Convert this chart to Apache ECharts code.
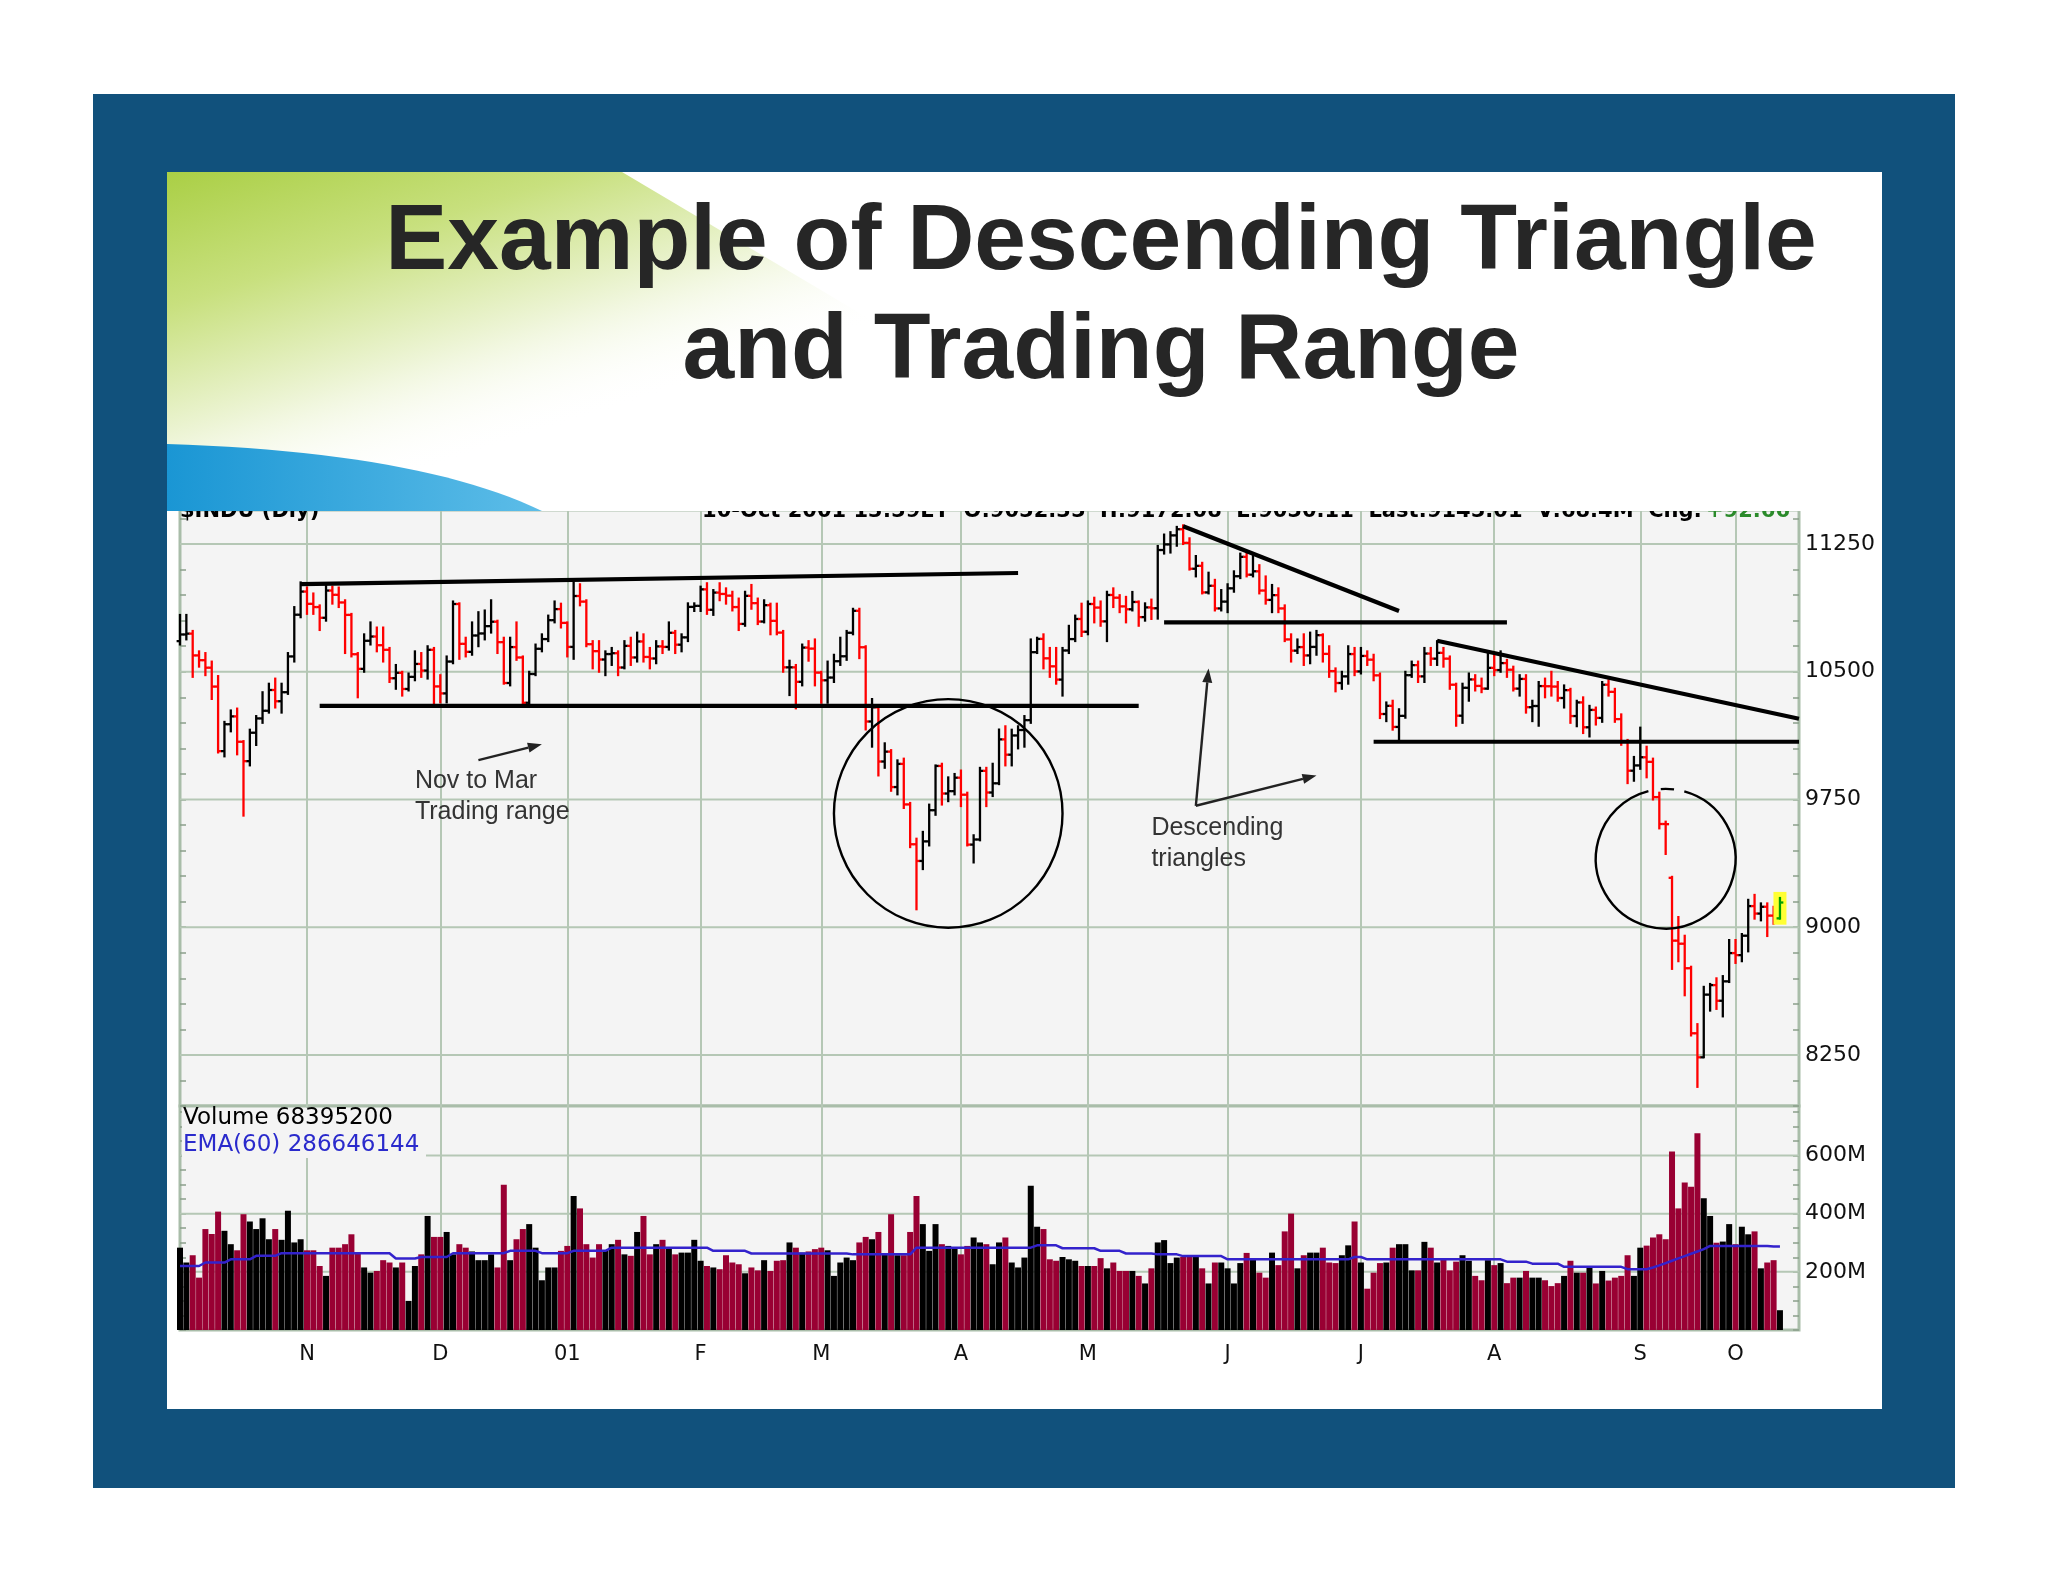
<!DOCTYPE html>
<html><head><meta charset="utf-8">
<script src="https://cdn.jsdelivr.net/npm/echarts@6/dist/echarts.min.js"></script>
<style>html,body{margin:0;padding:0;background:#fff}#chart{width:2048px;height:1582px}</style>
</head><body><div id="chart"></div>
<script>
// ---------- DATA (daily bars, 4-Oct-2000 .. 10-Oct-2001, index = trading day) ----------
const monthStarts = [20,41,61,82,101,123,143,165,186,207,230,245];
const monthLabels = ['N','D','01','F','M','A','M','J','J','A','S','O'];
const priceTickLabels = [8250, 9000, 9750, 10500, 11250];
const volumeTickLabels = [200, 400, 600];

const opens = [10680,10719,10724,10596,10568,10524,10413,10034,10192,10238,
10089,9975,10142,10226,10271,10393,10327,10380,10590,10835,
10971,10899,10880,10817,10977,10952,10907,10834,10603,10517,
10682,10707,10656,10629,10462,10494,10399,10470,10546,10507,
10629,10414,10373,10560,10898,10664,10617,10713,10725,10768,
10794,10674,10434,10645,10584,10318,10487,10635,10692,10803,
10868,10787,10646,10945,10912,10662,10621,10572,10604,10609,
10525,10652,10584,10678,10587,10578,10649,10646,10729,10659,
10702,10881,10887,10984,10864,10965,10957,10947,10880,10781,
10946,10903,10795,10891,10799,10730,10526,10526,10441,10642,
10636,10495,10450,10466,10562,10591,10729,10858,10644,10208,
10291,9973,10031,9823,9959,9721,9487,9389,9504,9687,
9947,9785,9799,9878,9778,9485,9515,9918,9791,9845,
10103,10013,10126,10158,10216,10615,10693,10579,10532,10454,
10625,10692,10810,10735,10898,10877,10796,10951,10935,10884,
10867,10910,10821,10878,10873,11215,11248,11301,11337,11257,
11105,11122,10966,11005,10872,10912,10990,11061,11175,11070,
11090,10977,10922,10950,10872,10690,10624,10645,10596,10646,
10715,10605,10504,10434,10473,10604,10502,10593,10571,10479,
10252,10300,10176,10241,10480,10539,10473,10607,10577,10611,
10577,10424,10242,10406,10455,10417,10401,10523,10510,10551,
10512,10401,10458,10292,10299,10416,10415,10413,10346,10392,
10240,10320,10174,10276,10229,10424,10382,10222,10091,9919,
9950,9998,9971,9764,9606,9290,8921,8903,8759,8377,
8236,8604,8660,8568,8682,8848,8836,8950,9124,9080,
9120,9068,9052];

const highs = [10834,10834,10740,10620,10610,10560,10475,10206,10273,10284,
10093,10160,10240,10380,10430,10460,10430,10610,10880,11025,
10995,10960,10890,11013,11000,10995,10920,10840,10610,10720,
10790,10760,10760,10640,10540,10500,10490,10620,10610,10650,
10640,10480,10590,10913,10902,10700,10790,10850,10860,10920,
10800,10700,10700,10790,10590,10500,10660,10720,10830,10913,
10900,10790,11025,11014,10920,10680,10680,10620,10640,10620,
10680,10700,10730,10720,10640,10680,10680,10790,10740,10720,
10902,10902,11000,11020,10980,11020,10990,10970,10930,10970,
11010,10930,10920,10900,10900,10740,10565,10540,10660,10680,
10690,10500,10560,10600,10700,10740,10870,10870,10650,10340,
10300,10080,10040,9980,9990,9730,9520,9560,9720,9950,
9960,9880,9900,9920,9790,9540,9936,9936,9960,10161,
10180,10160,10180,10240,10690,10700,10720,10640,10640,10640,
10770,10830,10900,10913,10935,10913,10970,10990,10950,10940,
10969,10913,10902,10924,11239,11306,11320,11351,11360,11284,
11180,11140,11082,11040,10980,11014,11090,11194,11194,11180,
11126,11060,11010,10990,10890,10720,10690,10720,10730,10740,
10720,10650,10520,10500,10650,10640,10640,10620,10600,10490,
10320,10330,10280,10500,10560,10560,10640,10640,10680,10640,
10590,10430,10430,10490,10480,10460,10610,10600,10620,10570,
10530,10480,10480,10330,10440,10460,10500,10440,10420,10400,
10330,10350,10300,10290,10440,10450,10400,10250,10100,10000,
10172,10060,9990,9790,9620,9296,9060,8950,8768,8431,
8650,8667,8700,8713,8925,8925,8960,9161,9190,9140,
9140,9120,9172];

const lows = [10660,10690,10470,10530,10480,10340,10026,10003,10150,10015,
9655,9950,10070,10200,10260,10290,10260,10370,10560,10820,
10840,10840,10745,10800,10900,10880,10610,10590,10350,10500,
10660,10620,10560,10440,10400,10360,10390,10450,10470,10460,
10300,10320,10320,10550,10576,10590,10600,10650,10690,10730,
10610,10430,10420,10570,10300,10300,10480,10620,10680,10790,
10760,10590,10576,10890,10650,10520,10500,10480,10540,10480,
10520,10540,10560,10560,10520,10550,10610,10630,10610,10620,
10680,10857,10857,10840,10834,10920,10900,10860,10745,10770,
10870,10780,10790,10720,10720,10500,10363,10285,10420,10565,
10420,10318,10318,10440,10540,10570,10720,10580,10161,10060,
9891,9936,9801,9780,9700,9470,9105,9341,9480,9660,
9720,9740,9780,9711,9480,9380,9510,9711,9770,9840,
9950,9950,10050,10060,10200,10610,10520,10470,10430,10360,
10610,10680,10710,10720,10790,10770,10680,10880,10850,10790,
10860,10770,10800,10810,10812,11194,11200,11240,11250,11100,
11060,10960,10960,10860,10860,10850,10970,11050,11060,11060,
10960,10900,10850,10850,10680,10560,10610,10540,10550,10600,
10560,10470,10385,10400,10430,10480,10490,10540,10450,10228,
10210,10160,10100,10230,10470,10440,10440,10540,10540,10530,
10400,10183,10200,10330,10390,10380,10400,10480,10500,10470,
10390,10360,10260,10210,10183,10350,10360,10330,10290,10200,
10180,10140,10120,10190,10206,10360,10206,10071,9846,9860,
9930,9880,9750,9580,9430,8755,8800,8600,8364,8062,
8236,8510,8520,8476,8678,8790,8800,8858,9050,9040,
8948,9020,9050];

const closes = [10719,10724,10596,10568,10524,10413,10034,10192,10238,10089,
9975,10142,10226,10271,10393,10327,10380,10590,10835,10971,
10899,10880,10817,10977,10952,10907,10834,10603,10517,10682,
10707,10656,10629,10462,10494,10399,10470,10546,10507,10629,
10414,10373,10560,10898,10664,10617,10713,10725,10768,10794,
10674,10434,10645,10584,10318,10487,10635,10692,10803,10868,
10787,10646,10945,10912,10662,10621,10572,10604,10609,10525,
10652,10584,10678,10587,10578,10649,10646,10729,10659,10702,
10881,10887,10984,10864,10965,10957,10947,10880,10781,10946,
10903,10795,10891,10799,10730,10526,10526,10441,10642,10636,
10495,10450,10466,10562,10591,10729,10858,10644,10208,10291,
9973,10031,9823,9959,9721,9487,9389,9504,9687,9947,
9785,9799,9878,9778,9485,9515,9918,9791,9845,10103,
10013,10126,10158,10216,10615,10693,10579,10532,10454,10625,
10692,10810,10735,10898,10877,10796,10951,10935,10884,10867,
10910,10821,10878,10873,11215,11248,11301,11337,11257,11105,
11122,10966,11005,10872,10912,10990,11061,11175,11070,11090,
10977,10922,10950,10872,10690,10624,10645,10596,10646,10715,
10605,10504,10434,10473,10604,10502,10593,10571,10479,10252,
10300,10176,10241,10480,10539,10473,10607,10577,10611,10577,
10424,10242,10406,10455,10417,10401,10523,10510,10551,10512,
10401,10458,10292,10299,10416,10415,10413,10346,10392,10240,
10320,10174,10276,10229,10424,10382,10222,10091,9919,9950,
9998,9971,9764,9606,9605,8921,8903,8759,8377,8236,
8604,8660,8568,8682,8848,8836,8950,9124,9080,9120,
9068,9052,9145];

// volume in millions of shares
const volumesM = [283,232,257,180,347,330,407,341,295,274,
398,373,347,384,312,347,310,410,301,312,
274,274,220,186,283,283,295,329,266,215,
197,203,240,232,215,232,100,220,260,392,
320,320,337,260,295,283,270,240,240,260,
215,499,240,312,347,364,283,171,215,215,
272,289,461,418,295,249,295,274,295,310,
260,255,337,392,260,295,310,283,260,266,
266,310,238,220,215,209,257,232,226,195,
215,205,240,203,238,240,301,283,266,270,
278,283,274,186,232,249,240,301,320,312,
337,260,398,257,257,337,461,364,272,364,
295,289,283,260,289,318,301,295,226,301,
318,232,215,249,496,355,347,243,238,251,
243,238,220,220,220,247,212,232,203,203,
203,186,160,212,301,309,230,249,251,251,
251,212,160,232,232,212,160,230,265,247,
197,180,266,223,339,400,212,257,266,266,
283,232,230,257,291,373,232,142,197,230,
232,283,295,295,205,205,303,283,232,243,
205,235,257,238,186,171,240,223,230,161,
180,180,203,180,180,171,151,161,186,238,
197,197,220,160,203,170,180,186,257,186,
283,290,318,329,312,614,418,507,492,676,
453,392,300,304,364,295,355,329,339,212,
232,240,68];

// EMA(60) of volume, millions
const emaM = [220,220,220,220,232,232,232,232,243,243,
243,243,255,255,255,255,264,264,264,264,
264,264,264,264,264,264,264,264,264,264,
264,264,264,264,246,246,246,246,251,251,
251,251,251,264,264,264,264,264,264,264,
264,264,272,272,272,272,272,264,264,264,
264,264,272,272,272,272,272,272,283,283,
283,283,283,283,283,283,283,283,283,283,
283,283,283,283,272,272,272,272,272,272,
263,263,263,263,263,263,263,263,263,263,
263,263,263,263,263,263,260,260,260,260,
260,260,260,260,260,260,283,283,283,283,
283,283,283,283,283,283,283,283,283,283,
283,283,283,283,283,291,291,291,291,281,
281,281,281,281,281,272,272,272,272,263,
263,263,263,263,260,260,260,260,254,254,
254,254,254,254,254,243,243,243,243,243,
243,243,243,243,243,243,243,243,243,243,
243,243,243,243,243,251,251,243,243,243,
243,243,243,243,243,243,243,243,243,243,
243,243,243,243,243,243,243,243,243,235,
235,235,235,228,228,228,228,228,217,217,
217,217,217,217,217,217,217,217,209,209,
209,209,215,222,230,238,246,254,262,270,
278,289,289,289,289,289,289,289,289,289,
289,287,287];

// ---------- ANNOTATIONS (in data space: [trading-day index, price]) ----------
const trendLines = [
  [[18.6, 11015], [131.9, 11080]],
  [[21.5, 10300], [151.2, 10300]],
  [[157.8, 11355], [191.9, 10857]],
  [[154.9, 10790], [209.0, 10790]],
  [[198.0, 10682], [254.5, 10224]],
  [[188.1, 10089], [254.5, 10089]]
];
const circles = [
  {center: [120.8, 9668], edge: [138.5, 9668], gapped: false},
  {center: [234.2, 9402], edge: [245.0, 9402], gapped: true}
];
const arrows = [
  [[47.4, 9981], [57.1, 10075]],
  [[159.9, 9713], [162.2, 10519]],
  [[159.9, 9713], [179.2, 9891]]
];
const notes = [
  {text: 'Nov to Mar', at: [37.4, 9858]},
  {text: 'Trading range', at: [37.4, 9674]},
  {text: 'Descending', at: [152.7, 9582]},
  {text: 'triangles', at: [152.7, 9398]}
];

// ---------- STYLE ----------
const gridColor = '#b5c7b5';
const borderColor = '#a9bda9';
const tickColor = '#8b9e8b';
const plotBg = '#f4f4f4';
const chartFont = '"DejaVu Sans", sans-serif';
const slideFont = '"Liberation Sans", Arial, sans-serif';
const NSLOTS = 256;
const slots = Array.from({length: NSLOTS}, (_, i) => i);
const isMonthStart = (index) => monthStarts.indexOf(index) >= 0;

const ohlcRows = closes.map((c, i) => [i, opens[i], highs[i], lows[i], c]);
const volData = volumesM.map((v, i) => ({value: v, itemStyle: {color: closes[i] < opens[i] ? '#990033' : '#000000'}}));

function renderOHLC(params, api) {
  const i = api.value(0);
  const o = api.value(1), h = api.value(2), l = api.value(3), c = api.value(4);
  const pH = api.coord([i, h]), pL = api.coord([i, l]);
  const pO = api.coord([i, o]), pC = api.coord([i, c]);
  const x = pH[0];
  const isLast = params.dataIndex === closes.length - 1;
  const color = isLast ? '#00a000' : (c < o ? '#ff0000' : '#000000');
  const st = {stroke: color, lineWidth: 2.3};
  const kids = [];
  if (isLast) {
    kids.push({type: 'rect', shape: {x: x - 6.5, y: pH[1] - 6, width: 13, height: pL[1] - pH[1] + 12}, style: {fill: '#ffff33'}});
  }
  kids.push({type: 'line', shape: {x1: x, y1: pH[1] - 1, x2: x, y2: pL[1] + 1}, style: st});
  kids.push({type: 'line', shape: {x1: x - 3.4, y1: pO[1], x2: x, y2: pO[1]}, style: st});
  kids.push({type: 'line', shape: {x1: x, y1: pC[1], x2: x + 3.4, y2: pC[1]}, style: st});
  return {type: 'group', children: kids};
}

function renderHLine(params, api) {
  const v = api.value(1);
  const a = api.coord([0, v]);
  const b = api.coord([NSLOTS - 1, v]);
  return {type: 'line', shape: {x1: a[0], y1: a[1], x2: b[0], y2: b[1]}, style: {stroke: gridColor, lineWidth: 2}};
}

function renderAnno(params, api) {
  const P = (p) => api.coord(p);
  const kids = [];
  trendLines.forEach(([a, b]) => {
    const pa = P(a), pb = P(b);
    kids.push({type: 'line', shape: {x1: pa[0], y1: pa[1], x2: pb[0], y2: pb[1]}, style: {stroke: '#000', lineWidth: 4.2}});
  });
  circles.forEach((cc) => {
    const pc = P(cc.center), pe = P(cc.edge);
    const r = Math.abs(pe[0] - pc[0]);
    const st = {stroke: '#000', fill: 'none', lineWidth: 2.4};
    if (!cc.gapped) {
      kids.push({type: 'circle', shape: {cx: pc[0], cy: pc[1], r: r}, style: st});
    } else {
      kids.push({type: 'arc', shape: {cx: pc[0], cy: pc[1], r: r, startAngle: -Math.PI / 2 + 0.27, endAngle: 1.5 * Math.PI - 0.25, clockwise: true}, style: st});
      kids.push({type: 'arc', shape: {cx: pc[0], cy: pc[1], r: r, startAngle: -Math.PI / 2 - 0.07, endAngle: -Math.PI / 2 + 0.12, clockwise: true}, style: st});
    }
  });
  arrows.forEach(([a, b]) => {
    const pa = P(a), pb = P(b);
    const dx = pb[0] - pa[0], dy = pb[1] - pa[1];
    const len = Math.hypot(dx, dy);
    const ux = dx / len, uy = dy / len;
    const bx = pb[0] - ux * 14, by = pb[1] - uy * 14;
    kids.push({type: 'line', shape: {x1: pa[0], y1: pa[1], x2: bx, y2: by}, style: {stroke: '#222', lineWidth: 2.4}});
    kids.push({type: 'polygon', shape: {points: [[pb[0], pb[1]], [bx - uy * 5, by + ux * 5], [bx + uy * 5, by - ux * 5]]}, style: {fill: '#222'}});
  });
  notes.forEach((n) => {
    const p = P(n.at);
    kids.push({type: 'text', x: p[0], y: p[1], style: {text: n.text, fill: '#333333', font: '25px ' + slideFont,
      textAlign: 'left', textVerticalAlign: 'middle', align: 'left', verticalAlign: 'middle'}});
  });
  return {type: 'group', children: kids};
}

function txt(x, y, text, font, fill, align, valign, z, zlevel) {
  return {type: 'text', x: x, y: y, z: z, zlevel: zlevel || 0, silent: true,
    style: {text: text, font: font, fill: fill, textAlign: align, textVerticalAlign: valign, align: align, verticalAlign: valign}};
}

// blue swoosh outline (quadratic curve sampled into polygon points)
const swooshPts = [];
for (let k = 0; k <= 24; k++) {
  const t = k / 24;
  const x = (1 - t) * (1 - t) * 167 + 2 * (1 - t) * t * 420 + t * t * 542;
  const y = (1 - t) * (1 - t) * 444 + 2 * (1 - t) * t * 452 + t * t * 511;
  swooshPts.push([x, y]);
}
swooshPts.push([167, 511]);

const chart = echarts.init(document.getElementById('chart'), null, {renderer: 'canvas', width: 2048, height: 1582});

const xBase = {
  type: 'category', data: slots, boundaryGap: false,
  axisLine: {show: false}, axisTick: {show: false},
  splitLine: {show: true, interval: (index) => isMonthStart(index), lineStyle: {color: gridColor, width: 2}}
};

const option = {
  animation: false,
  backgroundColor: '#ffffff',
  grid: [
    {left: 180, top: 510, width: 1619, height: 596, show: true, backgroundColor: plotBg, borderColor: borderColor, borderWidth: 3},
    {left: 180, top: 1106, width: 1619, height: 224, show: true, backgroundColor: plotBg, borderColor: borderColor, borderWidth: 3}
  ],
  xAxis: [
    Object.assign({}, xBase, {gridIndex: 0, axisLabel: {show: false}}),
    Object.assign({}, xBase, {gridIndex: 1, axisLabel: {show: true, interval: (index) => isMonthStart(index),
      formatter: (value, index) => { const k = monthStarts.indexOf(index); return k >= 0 ? monthLabels[k] : ''; },
      color: '#111111', fontFamily: chartFont, fontSize: 21, margin: 14}})
  ],
  yAxis: [
    {gridIndex: 0, type: 'value', position: 'right', min: 7950, max: 11450, interval: 150,
      axisLine: {show: false}, splitLine: {show: false},
      axisTick: {show: true, inside: true, length: 6, lineStyle: {color: tickColor, width: 1.5}},
      axisLabel: {formatter: (v) => priceTickLabels.indexOf(v) >= 0 ? String(v) : '', color: '#111111', fontFamily: chartFont, fontSize: 22, margin: 6}},
    {gridIndex: 0, type: 'value', position: 'left', min: 7950, max: 11450, interval: 150,
      axisLine: {show: false}, splitLine: {show: false}, axisLabel: {show: false},
      axisTick: {show: true, inside: true, length: 6, lineStyle: {color: tickColor, width: 1.5}}},
    {gridIndex: 1, type: 'value', position: 'right', min: 0, max: 770, interval: 50,
      axisLine: {show: false}, splitLine: {show: false},
      axisTick: {show: true, inside: true, length: 6, lineStyle: {color: tickColor, width: 1.5}},
      axisLabel: {formatter: (v) => volumeTickLabels.indexOf(v) >= 0 ? v + 'M' : '', color: '#111111', fontFamily: chartFont, fontSize: 22, margin: 6}},
    {gridIndex: 1, type: 'value', position: 'left', min: 0, max: 770, interval: 50,
      axisLine: {show: false}, splitLine: {show: false}, axisLabel: {show: false},
      axisTick: {show: true, inside: true, length: 6, lineStyle: {color: tickColor, width: 1.5}}}
  ],
  series: [
    {type: 'custom', name: 'priceGrid', xAxisIndex: 0, yAxisIndex: 0, z: 1, silent: true,
      data: priceTickLabels.map((v) => [0, v]), renderItem: renderHLine},
    {type: 'custom', name: 'volumeGrid', xAxisIndex: 1, yAxisIndex: 2, z: 1, silent: true,
      data: volumeTickLabels.map((v) => [0, v]), renderItem: renderHLine},
    {type: 'custom', name: 'DJIA', xAxisIndex: 0, yAxisIndex: 0, z: 5, silent: true,
      data: ohlcRows, encode: {x: 0, y: [1, 2, 3, 4]}, renderItem: renderOHLC},
    {type: 'custom', name: 'annotations', xAxisIndex: 0, yAxisIndex: 0, z: 6, silent: true, clip: false,
      data: [[0, 10000]], renderItem: renderAnno},
    {type: 'bar', name: 'Volume', xAxisIndex: 1, yAxisIndex: 2, z: 2, silent: true,
      barWidth: 6, data: volData},
    {type: 'line', name: 'EMA(60)', xAxisIndex: 1, yAxisIndex: 2, z: 4, silent: true,
      data: emaM, showSymbol: false, symbol: 'none', lineStyle: {color: '#3322cc', width: 2.5}}
  ],
  graphic: {elements: [
    {type: 'rect', z: -20, silent: true, shape: {x: 93, y: 94, width: 1862, height: 1394}, style: {fill: '#11517c'}},
    {type: 'rect', z: -19, silent: true, shape: {x: 167, y: 172, width: 1715, height: 1237}, style: {fill: '#ffffff'}},
    // volume legend box
    {type: 'rect', z: 1.5, silent: true, shape: {x: 182, y: 1108, width: 244, height: 50}, style: {fill: plotBg}},
    txt(183, 1118, 'Volume 68395200', '23px ' + chartFont, '#000000', 'left', 'middle', 1.6),
    txt(183, 1145, 'EMA(60) 286646144', '23px ' + chartFont, '#2a2acc', 'left', 'middle', 1.6),
    // chart header (mostly hidden under the slide title area)
    txt(180, 522, '$INDU (Dly)', 'bold 21px ' + chartFont, '#000000', 'left', 'bottom', 10),
    txt(1702, 522, '10-Oct 2001 13:59ET  O:9052.35  H:9172.08  L:9050.11  Last:9145.01  V:68.4M  Chg:', 'bold 21px ' + chartFont, '#000000', 'right', 'bottom', 10),
    txt(1706, 522, '+92.66', 'bold 21px ' + chartFont, '#2a8a2a', 'left', 'bottom', 10),
    // slide title area (separate upper layer)
    {type: 'rect', z: 50, zlevel: 1, silent: true, shape: {x: 167, y: 172, width: 1715, height: 339}, style: {fill: '#ffffff'}},
    {type: 'polygon', z: 51, zlevel: 1, silent: true, shape: {points: [[167, 172], [622, 172], [1060, 432], [167, 505]]},
      style: {fill: new echarts.graphic.LinearGradient(167, 172, 300, 580, [
        {offset: 0, color: '#aacf45'}, {offset: 0.3, color: '#c8e07e'}, {offset: 0.6, color: '#eef5d8'}, {offset: 0.85, color: 'rgba(255,255,255,0)'}], true)}},
    {type: 'polygon', z: 52, zlevel: 1, silent: true, shape: {points: swooshPts},
      style: {fill: new echarts.graphic.LinearGradient(167, 0, 542, 0, [
        {offset: 0, color: '#1a96d4'}, {offset: 1, color: '#5dbde8'}], true)}},
    txt(1101, 243, 'Example of Descending Triangle', 'bold 93px ' + slideFont, '#262626', 'center', 'middle', 53, 1),
    txt(1101, 352, 'and Trading Range', 'bold 93px ' + slideFont, '#262626', 'center', 'middle', 53, 1)
  ]}
};
chart.setOption(option);
</script>
</body></html>
